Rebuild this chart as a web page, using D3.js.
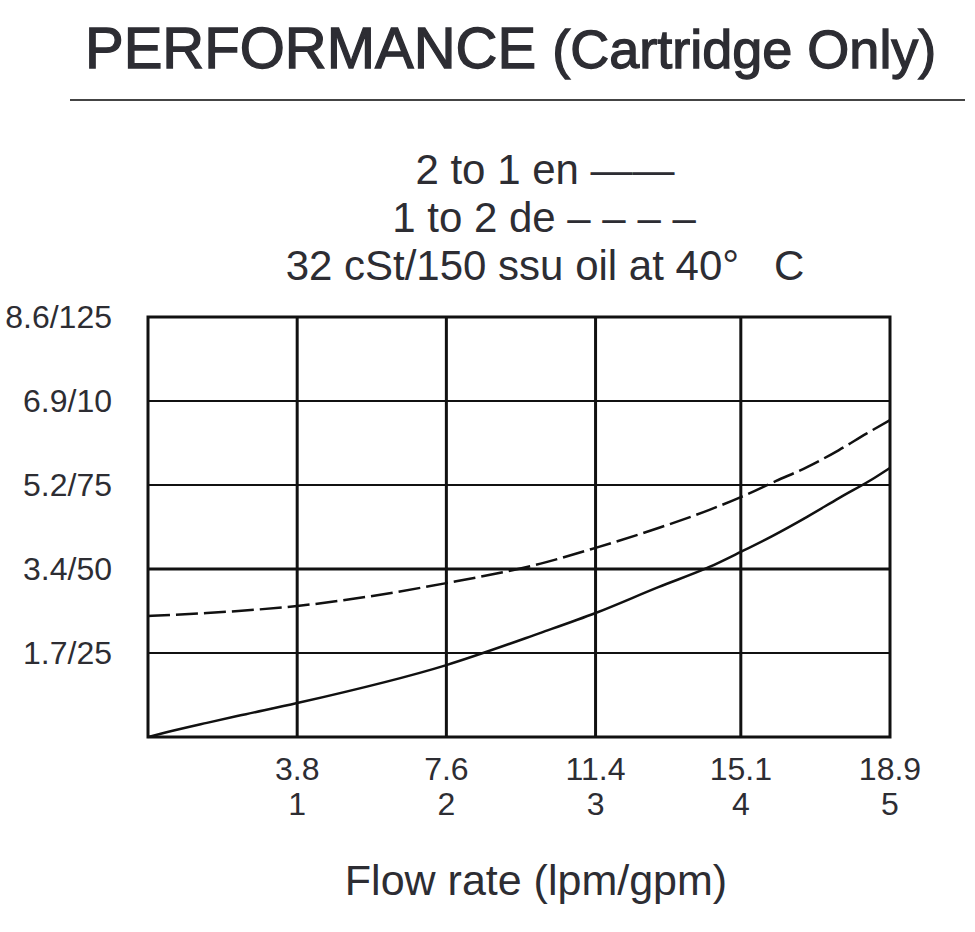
<!DOCTYPE html>
<html>
<head>
<meta charset="utf-8">
<script src="https://cdn.jsdelivr.net/npm/d3@7"></script>
<style>
  body { margin: 0; background: #fff; }
  text { font-family: "Liberation Sans", Arial, sans-serif; fill: #2d2d33; }
</style>
</head>
<body>
<div id="chart"></div>
<script>
// flow in lpm, pressure drop in psi
const lpmTicks = [3.8, 7.6, 11.4, 15.1, 18.9];
const gpmTicks = ["1", "2", "3", "4", "5"];
const psiTicks = [25, 50, 75, 100, 125];
const yLabels = ["1.7/25", "3.4/50", "5.2/75", "6.9/10", "8.6/125"];

// 2 to 1 en (solid)
const enFlow = [0, 0.3, 1.5, 2.3, 3.8, 7.6, 10.0, 11.4, 13.0, 14.3, 15.1, 15.9, 16.8, 17.6, 18.5, 18.9];
const enPsi  = [0, 0.9, 4.2, 6.3, 10.1, 21.4, 31.0, 36.9, 44.6, 50.6, 55.1, 59.8, 65.6, 71.1, 77.1, 80.1];
// 1 to 2 de (dashed)
const deFlow = [0, 1.5, 2.3, 3.8, 7.6, 10.0, 11.4, 13.0, 14.3, 15.1, 16.0, 16.8, 17.6, 18.3, 18.9];
const dePsi  = [36.0, 36.9, 37.5, 39.0, 45.8, 51.6, 56.3, 62.2, 67.6, 71.4, 76.2, 80.4, 85.4, 90.3, 94.3];

const W = 975, H = 932;
const plot = { left: 148, right: 890, top: 317, bottom: 737 };

const svg = d3.select("#chart").append("svg")
    .attr("width", W)
    .attr("height", H);

const x = d3.scaleLinear().domain([0, 18.9]).range([plot.left, plot.right]),
      y = d3.scaleLinear().domain([0, 125]).range([plot.bottom, plot.top]);

// title + rule
const title = svg.append("text")
    .attr("x", 85).attr("y", 68)
    .style("font-size", "58px")
    .style("stroke", "#2d2d33")
    .style("stroke-width", "1.3px");
title.append("tspan").text("PERFORMANCE ");
title.append("tspan")
    .style("font-size", "54px")
    .text("(Cartridge Only)");

svg.append("line")
    .attr("x1", 70).attr("x2", 965)
    .attr("y1", 100).attr("y2", 100)
    .attr("stroke", "#444").attr("stroke-width", 2);

// legend text
const legend = ["2 to 1 en \u2014\u2014", "1 to 2 de \u2013 \u2013 \u2013 \u2013", "32 cSt/150 ssu oil at 40\u00b0   C"];
svg.selectAll(".legend").data(legend).enter().append("text")
    .attr("class", "legend")
    .attr("x", (d, i) => [545, 544, 545][i])
    .attr("y", (d, i) => 184 + i * 48)
    .attr("text-anchor", "middle")
    .style("font-size", "42px")
    .style("white-space", "pre")
    .attr("xml:space", "preserve")
    .text(d => d);

// grid
const grid = svg.append("g").attr("stroke", "#111");
grid.selectAll(".hgrid").data(psiTicks.slice(0, 4)).enter().append("line")
    .attr("x1", plot.left).attr("x2", plot.right)
    .attr("y1", d => y(d)).attr("y2", d => y(d))
    .attr("stroke-width", d => d === 50 ? 3 : 2);
grid.selectAll(".vgrid").data(lpmTicks.slice(0, 4)).enter().append("line")
    .attr("x1", d => x(d)).attr("x2", d => x(d))
    .attr("y1", plot.top).attr("y2", plot.bottom)
    .attr("stroke-width", 3);
grid.append("rect")
    .attr("x", plot.left).attr("y", plot.top)
    .attr("width", plot.right - plot.left)
    .attr("height", plot.bottom - plot.top)
    .attr("fill", "none")
    .attr("stroke-width", 3);

// y labels
svg.selectAll(".ylab").data(psiTicks).enter().append("text")
    .attr("x", 112)
    .attr("y", d => y(d) + 11)
    .attr("text-anchor", "end")
    .style("font-size", "32px")
    .text((d, i) => yLabels[i]);

// x labels, two rows
const xl = svg.selectAll(".xlab").data(lpmTicks).enter().append("g");
xl.append("text")
    .attr("x", d => x(d)).attr("y", 780)
    .attr("text-anchor", "middle")
    .style("font-size", "32px")
    .text(d => d);
xl.append("text")
    .attr("x", d => x(d)).attr("y", 815)
    .attr("text-anchor", "middle")
    .style("font-size", "32px")
    .text((d, i) => gpmTicks[i]);

svg.append("text")
    .attr("x", 536).attr("y", 895)
    .attr("text-anchor", "middle")
    .style("font-size", "43px")
    .text("Flow rate (lpm/gpm)");

// curves
const line = d3.line()
    .x(d => x(d[0]))
    .y(d => y(d[1]))
    .curve(d3.curveMonotoneX);

svg.append("path")
    .datum(d3.zip(enFlow, enPsi))
    .attr("d", line)
    .attr("fill", "none")
    .attr("stroke", "#111")
    .attr("stroke-width", 2.5);

svg.append("path")
    .datum(d3.zip(deFlow, dePsi))
    .attr("d", line)
    .attr("fill", "none")
    .attr("stroke", "#111")
    .attr("stroke-width", 2.5)
    .attr("stroke-dasharray", "22,6");
</script>
</body>
</html>
